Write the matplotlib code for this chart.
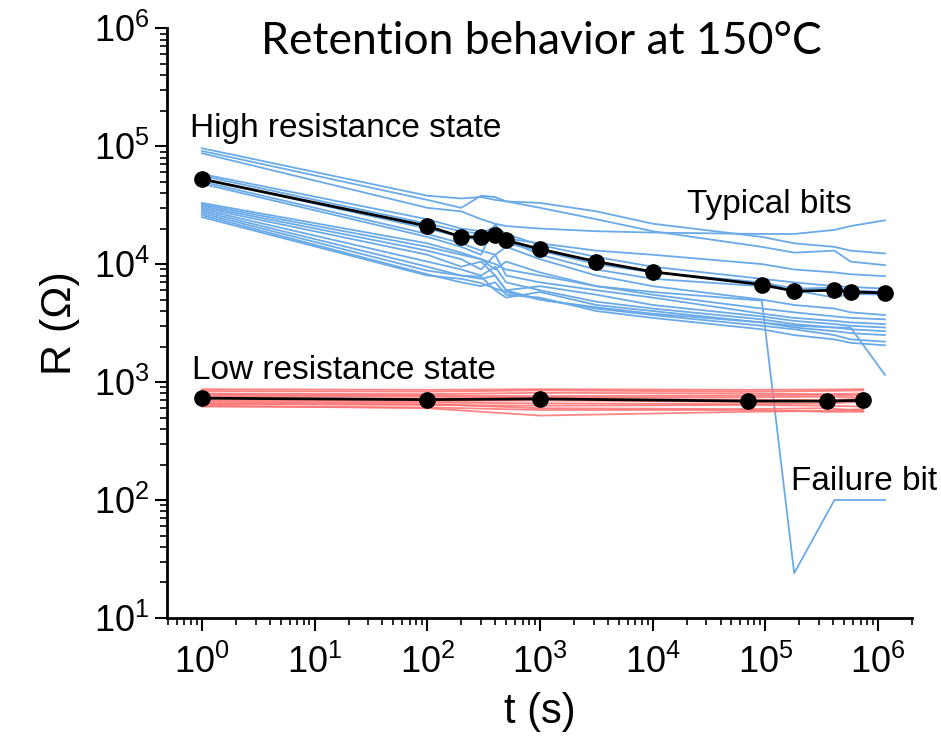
import numpy as np
import matplotlib
matplotlib.use("Agg")
import matplotlib.pyplot as plt
from matplotlib.ticker import LogLocator, NullFormatter

plt.rcParams['font.family'] = ['Liberation Sans', 'DejaVu Sans']
plt.rcParams['mathtext.fontset'] = 'custom'
plt.rcParams['mathtext.rm'] = 'Liberation Sans'

# read times (s) for the high resistance state bits
t_hrs = [1, 100, 200, 300, 400, 500, 1000, 3162, 10000, 93000, 180000, 410000, 570000, 1150000]

# individual HRS bits (ohm)
hrs_bits = [
    [96000, 38000, 36000, 37000, 35000, 34000, 33000, 28000, 22000, 17000, 15000, 14000, 13000, 12300],
    [91000, 35000, 30000, 38000, 37000, 34000, 30000, 24000, 19000, 14000, 12500, 13000, 10500, 9800],
    [87000, 30000, 28000, 24000, 22000, 21000, 20000, 19000, 18500, 18000, 18000, 19500, 21000, 23500],
    [58000, 24000, 20000, 19000, 17500, 16500, 15000, 13000, 12000, 10000, 9000, 8500, 8200, 7900],
    [56000, 22000, 19000, 18000, 21000, 18000, 14500, 11500, 9500, 7500, 7000, 6500, 6400, 6200],
    [53000, 20000, 17000, 16000, 17000, 15000, 13000, 10000, 8500, 7000, 6200, 6300, 6000, 5800],
    [50000, 18000, 15000, 13000, 12000, 14000, 11000, 8000, 6500, 5000, 4500, 4200, 3900, 3700],
    [48000, 17000, 14000, 12000, 22000, 16000, 12000, 9000, 7500, 6500, 6000, 5200, 5600, 5500],
    [33000, 15000, 12500, 11000, 9000, 10500, 8500, 6500, 5500, 4200, 3900, 3600, 3500, 3400],
    [31000, 13000, 11000, 9000, 12000, 8000, 7000, 6000, 5200, 3800, 3500, 3300, 3200, 3100],
    [30000, 12000, 9500, 10500, 8000, 6000, 6500, 5500, 4500, 3600, 3300, 3100, 3000, 2900],
    [29000, 10500, 9000, 8000, 9500, 7000, 6000, 4800, 4200, 3400, 3100, 2900, 2800, 2700],
    [28000, 9500, 8000, 7800, 6000, 5200, 5800, 4500, 4000, 3200, 2900, 2700, 2600, 2500],
    [27000, 8800, 8000, 7500, 8000, 6000, 5000, 4200, 3700, 3000, 2800, 2500, 2300, 2200],
    [26000, 8200, 7000, 6500, 7000, 5500, 5200, 4000, 3500, 2800, 2500, 2300, 2150, 2050],
    [25000, 8000, 7500, 6900, 6200, 5800, 5000, 4300, 3800, 3200, 3000, 2900, 2900, 1150],
]
# the bit that fails after ~1e5 s
fail_bit = [32000, 14000, 12000, 11000, 10000, 9000, 8000, 6500, 5800, 4900, 24, 100, 100, 100]

# typical HRS trace
hrs_typ = [52500, 21000, 17000, 17000, 17700, 15900, 13400, 10500, 8600, 6700, 5900, 6000, 5800, 5700]

# low resistance state
t_lrs = [1, 100, 1000, 70000, 350000, 740000]
lrs_bits = [
    [870, 860, 870, 860, 865, 870],
    [840, 830, 850, 830, 840, 850],
    [800, 790, 810, 800, 790, 800],
    [780, 770, 760, 770, 780, 770],
    [760, 750, 740, 745, 750, 740],
    [730, 720, 720, 710, 700, 720],
    [700, 690, 700, 680, 690, 700],
    [680, 670, 660, 650, 660, 680],
    [650, 640, 630, 640, 630, 620],
    [630, 600, 520, 560, 570, 590],
    [620, 610, 580, 580, 560, 560],
    [660, 650, 600, 590, 600, 570],
]
lrs_typ = [730, 710, 720, 690, 690, 700]

blue = '#6aaae8'
red = '#ff7070'

fig = plt.figure(figsize=(9.41, 7.41), dpi=100)
ax = fig.add_axes([0.1775, 0.166, 0.7917, 0.796])

for r in hrs_bits:
    ax.plot(t_hrs, r, color=blue, lw=1.3)
ax.plot(t_hrs, fail_bit, color=blue, lw=1.3)
for r in lrs_bits:
    ax.plot(t_lrs, r, color=red, lw=1.3, alpha=0.85)

ax.plot(t_hrs, hrs_typ, color='black', lw=2, marker='o', ms=11, zorder=5)
ax.plot(t_lrs, lrs_typ, color='black', lw=2, marker='o', ms=11, zorder=5)

ax.set_xscale('log')
ax.set_yscale('log')
ax.set_xlim(0.49, 2.0e6)
ax.set_ylim(10, 1e6)

# decade ticks with minor ticks between
ax.xaxis.set_minor_locator(LogLocator(base=10, subs=np.arange(2, 10), numticks=20))
ax.yaxis.set_minor_locator(LogLocator(base=10, subs=np.arange(2, 10), numticks=20))
ax.set_xticks([10.0 ** k for k in range(0, 7)])
ax.set_xticklabels([r'$\mathrm{10^{%d}}$' % k for k in range(0, 7)])
ax.set_yticks([10.0 ** k for k in range(1, 7)])
ax.set_yticklabels([r'$\mathrm{10^{%d}}$' % k for k in range(1, 7)])
ax.xaxis.set_minor_formatter(NullFormatter())
ax.yaxis.set_minor_formatter(NullFormatter())

ax.tick_params(which='major', direction='out', length=9, width=1.5, labelsize=26)
ax.tick_params(which='minor', direction='out', length=5, width=1.2)
ax.tick_params(axis='x', pad=10)

for s in ['top', 'right']:
    ax.spines[s].set_visible(False)
for s in ['left', 'bottom']:
    ax.spines[s].set_linewidth(2)

ax.set_xlabel('t (s)', fontsize=30, labelpad=8)
ax.set_ylabel('R (Ω)', fontsize=31, labelpad=10)

fig.text(541 / 941, 1 - 42 / 741, 'Retention behavior at 150°C', fontsize=32,
         family=['Lato', 'DejaVu Sans'], ha='center', va='center')
fig.text(190 / 941, 1 - 128 / 741, 'High resistance state', fontsize=24, ha='left', va='center')
fig.text(192 / 941, 1 - 370 / 741, 'Low resistance state', fontsize=24, ha='left', va='center')
fig.text(769 / 941, 1 - 204 / 741, 'Typical bits', fontsize=24, ha='center', va='center')
fig.text(864 / 941, 1 - 481 / 741, 'Failure bit', fontsize=24, ha='center', va='center')

fig.savefig('out.png', dpi=100)
